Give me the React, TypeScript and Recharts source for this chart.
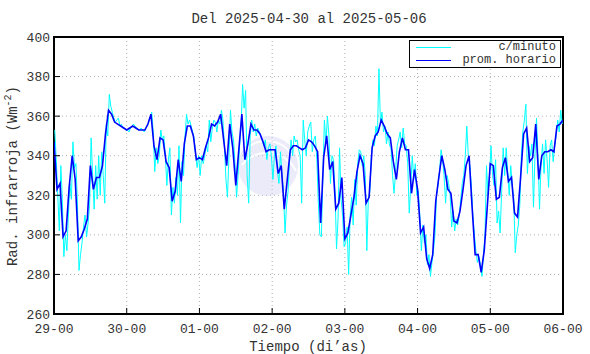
import React from 'react';
import { LineChart, Line, XAxis, YAxis, CartesianGrid, Legend, ReferenceArea, Customized } from 'recharts';

const dayTicks = [0, 24, 48, 72, 96, 120, 144, 168];
const dayLabels = ['29-00', '30-00', '01-00', '02-00', '03-00', '04-00', '05-00', '06-00'];
const radTicks = [260, 280, 300, 320, 340, 360, 380, 400];

// promedio horario, una muestra por hora desde 29-00
const hourly = [
  347, 323, 326, 299, 302, 324, 340, 328, 297, 299, 303, 308, 335, 323, 329, 329, 335, 351, 363, 361, 357, 356, 355, 354,
  353, 354, 355, 354, 353, 353, 353, 356, 361, 345, 338, 349, 348, 337, 334, 317, 322, 338, 327, 346, 355, 355, 350, 338,
  339, 338, 344, 349, 356, 355, 357, 361, 348, 335, 356, 344, 325, 343, 361, 338, 346, 356, 353, 353, 351, 347, 342, 343,
  343, 343, 331, 335, 313, 328, 343, 345, 345, 344, 343, 344, 348, 347, 345, 342, 306, 339, 350, 333, 337, 313, 316, 329,
  298, 301, 310, 319, 332, 340, 336, 316, 319, 344, 350, 352, 358, 355, 351, 349, 337, 328, 342, 349, 343, 343, 321, 333,
  323, 301, 304, 288, 283, 290, 317, 329, 340, 333, 323, 321, 307, 306, 312, 323, 335, 340, 314, 290, 290, 281, 292, 314,
  336, 335, 318, 319, 334, 339, 327, 329, 311, 309, 329, 351, 354, 337, 339, 356, 328, 340, 342, 342, 343, 342, 355, 356,
  358,
];

// c/minuto, leído cada media hora (h+0:15, h+0:45)
const perMinute = [
  353, 338, 320, 302, 335, 318, 289, 300, 292, 310, 326, 318, 347, 334, 336, 315, 282, 290, 296, 304, 310, 299, 306, 315,
  349, 330, 313, 335, 318, 340, 320, 342, 330, 316, 356, 350, 371, 365, 362, 359, 357, 358, 359, 355, 356, 354, 354, 353,
  353, 352, 354, 355, 356, 355, 354, 353, 353, 354, 353, 352, 354, 355, 357, 359, 362, 352, 332, 344, 336, 340, 353, 348,
  350, 340, 325, 338, 344, 310, 324, 316, 329, 320, 345, 306, 337, 330, 350, 361, 356, 358, 355, 352, 349, 340, 334, 340,
  330, 340, 336, 340, 345, 342, 358, 347, 354, 358, 357, 352, 358, 356, 363, 358, 345, 328, 319, 340, 363, 352, 348, 336,
  319, 330, 345, 355, 376, 364, 373, 330, 316, 350, 358, 352, 356, 350, 354, 352, 350, 348, 345, 348, 338, 344, 346, 340,
  328, 340, 345, 332, 326, 342, 330, 322, 301, 315, 322, 338, 348, 340, 350, 347, 348, 343, 340, 316, 358, 348, 340, 352,
  355, 357, 342, 348, 350, 338, 316, 300, 299, 330, 358, 346, 360, 350, 326, 340, 338, 322, 293, 308, 344, 318, 310, 294,
  296, 304, 280, 310, 319, 305, 328, 315, 336, 343, 342, 335, 340, 330, 292, 318, 322, 340, 348, 345, 355, 350, 384, 356,
  362, 352, 355, 346, 352, 345, 344, 330, 321, 332, 345, 348, 352, 344, 354, 346, 345, 336, 311, 325, 340, 328, 336, 320,
  322, 310, 292, 305, 296, 300, 285, 290, 279, 286, 292, 300, 320, 325, 332, 343, 338, 330, 316, 330, 326, 320, 304, 312,
  302, 308, 305, 310, 318, 326, 330, 340, 355, 340, 335, 325, 310, 300, 292, 286, 289, 285, 279, 290, 300, 335, 320, 330,
  345, 330, 325, 338, 306, 312, 301, 322, 344, 330, 344, 332, 320, 335, 325, 318, 291, 300, 305, 315, 340, 352, 358, 366,
  331, 345, 340, 346, 314, 340, 359, 340, 313, 335, 346, 331, 348, 338, 324, 345, 348, 337, 345, 350, 358, 352, 363, 356,
];

const hourlyData = hourly.map((v, i) => ({ t: i, v }));
const minuteData = perMinute.map((v, i) => ({ t: i / 2 + 0.25, v }));

const mono = '"Liberation Mono", "DejaVu Sans Mono", monospace';

const renderLegend = (props: any) => (
  <div
    style={{
      border: '1px solid #000',
      background: '#fff',
      width: 152,
      height: 28,
      boxSizing: 'border-box',
      padding: '0 4px 0 6px',
      fontFamily: mono,
      fontSize: 12,
      color: '#333',
    }}
  >
    {(props.payload || []).map((entry: any) => (
      <div
        key={entry.value}
        style={{ display: 'flex', alignItems: 'center', height: 13, lineHeight: '13px', whiteSpace: 'nowrap' }}
      >
        <span style={{ flex: '0 0 35px', borderTop: `1px solid ${entry.color}` }} />
        <span style={{ marginLeft: 'auto' }}>{entry.value}</span>
      </div>
    ))}
  </div>
);

// marca de agua tenue del centro
const Watermark = () => (
  <g opacity={0.35}>
    <circle cx={268} cy={166} r={30} fill="#c8c8f0" />
    <path d="M 246 149 A 30 30 0 0 1 292 155" fill="none" stroke="#fff" strokeWidth={2} />
    <path d="M 242 165 A 32 32 0 0 1 296 171" fill="none" stroke="#fff" strokeWidth={2} />
  </g>
);

const YLabel = () => (
  <text transform="translate(17,176) rotate(-90)" textAnchor="middle" fontFamily={mono} fontSize={14} fill="#333">
    Rad. infrarroja (Wm
    <tspan dy={-6} fontSize={10}>-2</tspan>
    <tspan dy={6}>)</tspan>
  </text>
);

const XLabel = () => (
  <text x={308} y={351} textAnchor="middle" fontFamily={mono} fontSize={14} fill="#333">
    Tiempo (di’as)
  </text>
);

export default function App() {
  return (
    <div style={{ position: 'absolute', left: 0, top: 0, width: 590, height: 354, background: '#fff' }}>
      <div
        style={{
          position: 'absolute',
          top: 10,
          left: 0,
          width: 618,
          textAlign: 'center',
          fontFamily: mono,
          fontSize: 14,
          color: '#333',
          lineHeight: '18px',
        }}
      >
        Del 2025-04-30 al 2025-05-06
      </div>
      <LineChart width={590} height={354} margin={{ top: 37, right: 27, bottom: 0, left: 0 }}>
        <CartesianGrid stroke="#b0b0b0" strokeDasharray="1 3" />
        <Customized component={Watermark} />
        <XAxis
          xAxisId={0}
          dataKey="t"
          type="number"
          domain={[0, 168]}
          ticks={dayTicks}
          tickFormatter={(v: number) => dayLabels[dayTicks.indexOf(v)]}
          height={40}
          tickSize={-6}
          tickMargin={16}
          axisLine={false}
          tickLine={{ stroke: '#000' }}
          tick={{ fontFamily: mono, fontSize: 13, fill: '#333' }}
          label={{ content: () => <XLabel /> }}
          allowDataOverflow
        />
        <XAxis
          xAxisId="top"
          orientation="top"
          dataKey="t"
          type="number"
          domain={[0, 168]}
          ticks={dayTicks}
          height={0}
          tickSize={-6}
          tick={false}
          axisLine={false}
          tickLine={{ stroke: '#000' }}
        />
        <YAxis
          yAxisId={0}
          type="number"
          domain={[260, 400]}
          ticks={radTicks}
          width={54}
          tickSize={-6}
          tickMargin={10}
          axisLine={false}
          tickLine={{ stroke: '#000' }}
          tick={{ fontFamily: mono, fontSize: 13, fill: '#333' }}
          label={{ content: () => <YLabel /> }}
          allowDataOverflow
        />
        <YAxis
          yAxisId="right"
          orientation="right"
          type="number"
          domain={[260, 400]}
          ticks={radTicks}
          width={0}
          tickSize={-6}
          tick={false}
          axisLine={false}
          tickLine={{ stroke: '#000' }}
        />
        <ReferenceArea
          x1={0}
          x2={168}
          y1={260}
          y2={400}
          fill="none"
          stroke="#000"
          strokeWidth={2}
          ifOverflow="visible"
        />
        <Line
          data={minuteData}
          dataKey="v"
          name="c/minuto"
          stroke="#00ffff"
          strokeWidth={1}
          dot={false}
          isAnimationActive={false}
        />
        <Line
          data={hourlyData}
          dataKey="v"
          name="prom. horario"
          stroke="#0000ff"
          strokeWidth={1.6}
          dot={false}
          isAnimationActive={false}
        />
        <Legend
          layout="horizontal"
          verticalAlign="middle"
          align="center"
          content={renderLegend}
          wrapperStyle={{ top: 40, left: 409, width: 152, height: 28 }}
        />
      </LineChart>
    </div>
  );
}
